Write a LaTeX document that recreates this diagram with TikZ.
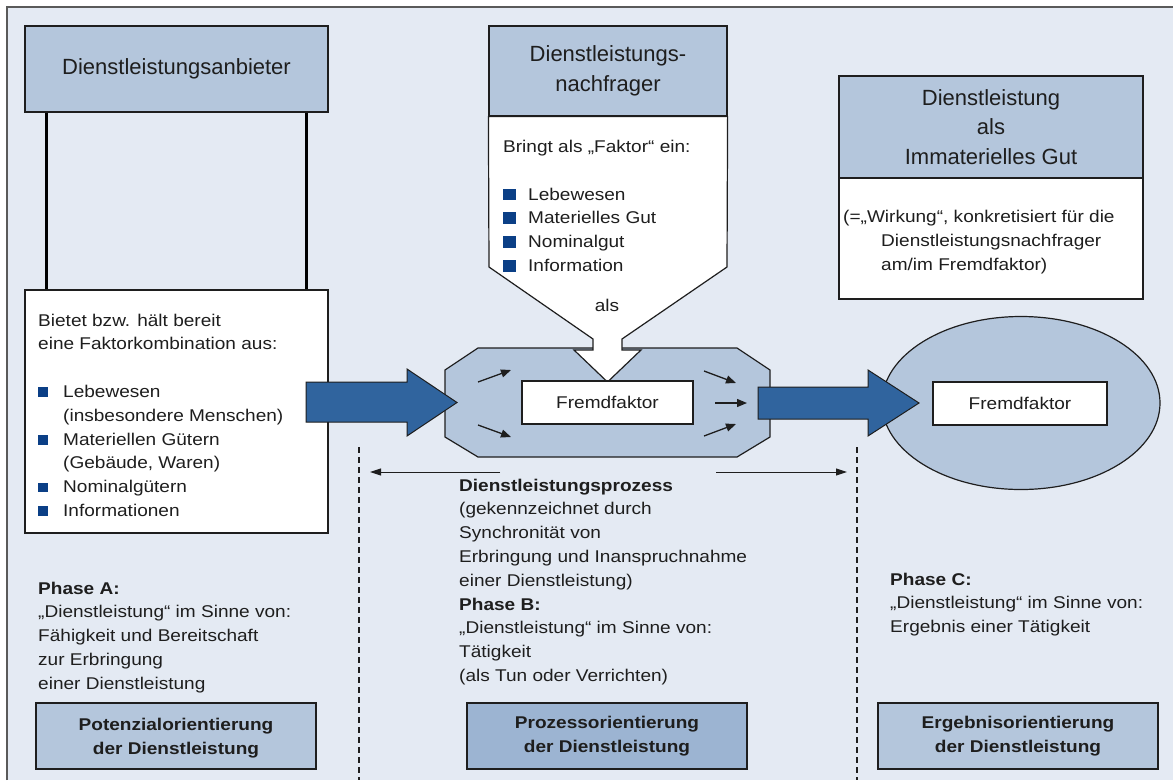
\documentclass[tikz,border=0pt]{standalone}
\usepackage{fontspec}
\setmainfont{Liberation Sans}[FakeStretch=1.12]
\newfontfamily\hdfont{Liberation Sans}
\usetikzlibrary{arrows.meta,calc,shapes.geometric}

\definecolor{bgpanel}{HTML}{E4EAF3}
\definecolor{hdfill}{HTML}{B4C6DC}
\definecolor{procfill}{HTML}{9CB4D2}
\definecolor{flowblue}{HTML}{30649E}
\definecolor{bulblue}{HTML}{0B3F86}
\definecolor{ink}{HTML}{1E1E1E}
\definecolor{framegray}{HTML}{5A5A5A}

\newcommand\bodyfont{\fontsize{17}{23.8}\selectfont}
\newcommand\headfont{\hdfont\fontsize{22}{29.5}\selectfont}
\newcommand\lbul{\makebox[25pt][l]{\textcolor{bulblue}{\raisebox{0.5pt}{\rule{10pt}{9.5pt}}}}}
\newcommand\mbul{\makebox[25pt][l]{\textcolor{bulblue}{\rule{12.5pt}{11.5pt}}}}

\tikzset{
  outline/.style={draw=ink, line width=1.2pt},
  headbox/.style={outline, fill=hdfill, inner sep=0pt, align=center, text=ink, font=\headfont},
  whitebox/.style={outline, fill=white, inner sep=0pt},
  txt/.style={anchor=north west, inner sep=0pt, align=left, text=ink, font=\bodyfont},
  orientbox/.style={outline, inner sep=0pt, align=center, text=ink, font=\bodyfont\bfseries,
    minimum width=280pt, minimum height=66pt},
  blockarrow/.style={draw=ink, line width=1pt, fill=flowblue},
  flow/.style={draw=ink, line width=1.3pt, -{Triangle[length=10pt,width=8pt]}},
  span/.style={draw=ink, line width=1pt, -{Triangle[length=11pt,width=7pt]}},
  phaseline/.style={draw=ink, line width=1.5pt, dash pattern=on 6pt off 4pt},
  post/.style={draw=black, line width=3pt}
}

\begin{document}
\begin{tikzpicture}[x=1pt, y=-1pt]
\useasboundingbox (0,0) rectangle (1173,780);

% panel and frame
\fill[bgpanel] (7,7) rectangle (1173,780);
\draw[framegray, line width=2pt] (7,780) -- (7,7) -- (1173,7);

% provider
\node[headbox, minimum width=303pt, minimum height=86pt] (anb) at (176.5,69) {Dienstleistungsanbieter};
\node[whitebox, minimum width=303pt, minimum height=243pt] (anbbox) at (176.5,411.5) {};
\draw[post] ($(anb.south west)+(22,0)$) -- ($(anbbox.north west)+(22,0)$);
\draw[post] ($(anb.south east)+(-22,0)$) -- ($(anbbox.north east)+(-22,0)$);
\node[txt] (anbtxt) at (38,313.5) {Bietet bzw. hält bereit\\
eine Faktorkombination aus:\\[23.8pt]
\lbul Lebewesen\\
\hspace*{25pt}(insbesondere Menschen)\\
\lbul Materiellen Gütern\\
\hspace*{25pt}(Gebäude, Waren)\\
\lbul Nominalgütern\\
\lbul Informationen};

% service process
\path[outline, fill=hdfill] (478,348) -- (737,348) -- (770,370) -- (770,437) -- (737,457)
  -- (478,457) -- (445,437) -- (445,370) -- cycle;
\coordinate (proc) at (607.5,402.5);

% customer
\node[headbox, minimum width=238pt, minimum height=90pt] (nach) at (608,71) {Dienstleistungs-\\nachfrager};
\path[outline, fill=white] (nach.south west) -- (nach.south east) -- (727,267) -- (622,339)
  -- (622,350) -- (641,350) -- (607.5,382) -- (574,350) -- (593,350) -- (593,339)
  -- (489,267) -- cycle;
\node[txt] (nachtxt) at (503,140) {Bringt als „Faktor“ ein:\\[23.8pt]
\mbul Lebewesen\\
\mbul Materielles Gut\\
\mbul Nominalgut\\
\mbul Information};
\node[inner sep=0pt, text=ink, font=\bodyfont] (als) at (607,305) {als};

\node[whitebox, minimum width=171pt, minimum height=43pt, text=ink, font=\bodyfont] (ff1) at (proc) {Fremdfaktor};

% flow arrows inside the process
\coordinate (a1s) at (478,382); \coordinate (a1e) at (511,370);
\coordinate (a2s) at (478,425); \coordinate (a2e) at (511,437);
\coordinate (a3s) at (704,371); \coordinate (a3e) at (736,383);
\coordinate (a4s) at (715,403); \coordinate (a4e) at (747,403);
\coordinate (a5s) at (704,436); \coordinate (a5e) at (736,424);
\draw[flow] (a1s) -- (a1e);
\draw[flow] (a2s) -- (a2e);
\draw[flow] (a3s) -- (a3e);
\draw[flow] (a4s) -- (a4e);
\draw[flow] (a5s) -- (a5e);

% result
\node[headbox, minimum width=304pt, minimum height=102pt] (imm) at (991,127) {Dienstleistung\\als\\Immaterielles Gut};
\node[whitebox, minimum width=304pt, minimum height=121pt] (immbox) at (991,238.5) {};
\node[txt] (immtxt) at (843,210) {(=„Wirkung“, konkretisiert für die\\
\hspace*{38pt}Dienstleistungsnachfrager\\
\hspace*{38pt}am/im Fremdfaktor)};

\node[ellipse, draw=ink, line width=1.2pt, fill=hdfill, minimum width=278pt, minimum height=173pt, inner sep=0pt] (erg) at (1021,403) {};
\node[whitebox, minimum width=174pt, minimum height=43pt, text=ink, font=\bodyfont] (ff2) at (1020,403.5) {Fremdfaktor};

% block arrows between the phases
\path[blockarrow] (306,382) -- (407,382) -- (407,369) -- (457,402.5) -- (407,436) -- (407,422) -- (306,422) -- cycle;
\path[blockarrow] (758,387) -- (868,387) -- (868,370) -- (919,403) -- (868,436) -- (868,419) -- (758,419) -- cycle;

% phase borders and span of the process
\coordinate (dA) at (359,447); \coordinate (dAb) at (359,780);
\coordinate (dC) at (857,447); \coordinate (dCb) at (857,780);
\draw[phaseline] (dA) -- (dAb);
\draw[phaseline] (dC) -- (dCb);
\coordinate (sl) at (500,472); \coordinate (sle) at (370,472);
\coordinate (sr) at (716,472); \coordinate (sre) at (847,472);
\draw[span] (sl) -- (sle);
\draw[span] (sr) -- (sre);

% phase descriptions
\node[txt] (ptxt) at (459,478.5) {\textbf{Dienstleistungsprozess}\\
(gekennzeichnet durch\\
Synchronität von\\
Erbringung und Inanspruchnahme\\
einer Dienstleistung)\\
\textbf{Phase B:}\\
„Dienstleistung“ im Sinne von:\\
Tätigkeit\\
(als Tun oder Verrichten)};
\node[txt] (atxt) at (38,581.5) {\textbf{Phase A:}\\
„Dienstleistung“ im Sinne von:\\
Fähigkeit und Bereitschaft\\
zur Erbringung\\
einer Dienstleistung};
\node[txt] (ctxt) at (890,572.5) {\textbf{Phase C:}\\
„Dienstleistung“ im Sinne von:\\
Ergebnis einer Tätigkeit};

% orientations
\node[orientbox, fill=hdfill, text depth=0pt] (pot) at (176,736) {\rule{0pt}{3pt}Potenzialorientierung\\der Dienstleistung};
\node[orientbox, fill=procfill] (proz) at (607,736) {\rule{0pt}{3pt}Prozessorientierung\\der Dienstleistung};
\node[orientbox, fill=hdfill] (ergb) at (1018,736) {\rule{0pt}{3pt}Ergebnisorientierung\\der Dienstleistung};
\end{tikzpicture}
\end{document}
